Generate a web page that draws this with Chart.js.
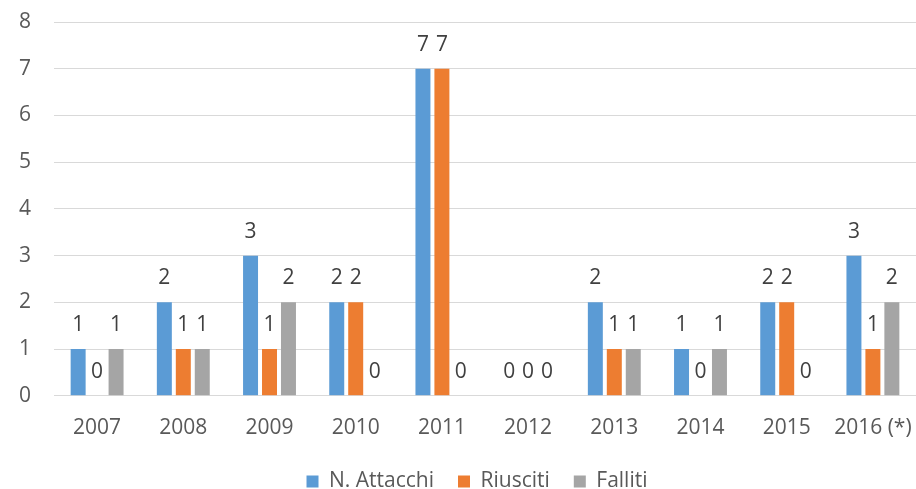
<!DOCTYPE html>
<html>
<head>
<meta charset="utf-8">
<script src="https://cdn.jsdelivr.net/npm/chart.js@4/dist/chart.umd.min.js"></script>
<style>
  html, body { margin: 0; padding: 0; background: #fff; }
  #box { width: 916px; height: 489px; }
</style>
</head>
<body>
<div id="box"><canvas id="grafico"></canvas></div>
<script>
const anni = ["2007", "2008", "2009", "2010", "2011", "2012", "2013", "2014", "2015", "2016 (*)"];
const attacchi = [1, 2, 3, 2, 7, 0, 2, 1, 2, 3];
const riusciti = [0, 1, 1, 2, 7, 0, 1, 0, 2, 1];
const falliti = [1, 1, 2, 0, 0, 0, 1, 1, 0, 2];

const FONT = "'Open Sans', sans-serif";
const SIZE = 21;

// etichette dei valori sopra le barre (anche gli zeri)
const etichette = {
  id: "etichette",
  afterLayout(chart) {
    // la legenda va centrata un po' più a destra
    if (chart.legend) {
      chart.legend.left += 21;
      chart.legend.right += 21;
    }
  },
  afterDatasetsDraw(chart) {
    const ctx = chart.ctx;
    ctx.save();
    ctx.font = SIZE + "px " + FONT;
    ctx.fillStyle = "#404040";
    ctx.textAlign = "center";
    ctx.textBaseline = "alphabetic";
    chart.data.datasets.forEach((ds, i) => {
      const meta = chart.getDatasetMeta(i);
      meta.data.forEach((bar, j) => {
        ctx.fillText(String(ds.data[j]), bar.x, bar.y - 18);
      });
    });
    ctx.restore();
  }
};

const ctx = document.getElementById("grafico").getContext("2d");
const grafico = new Chart(ctx, {
  type: "bar",
  data: {
    labels: anni,
    datasets: [
      { label: "N. Attacchi", data: attacchi, backgroundColor: "#5B9BD5" },
      { label: "Riusciti", data: riusciti, backgroundColor: "#ED7D31" },
      { label: "Falliti", data: falliti, backgroundColor: "#A5A5A5" }
    ]
  },
  options: {
    responsive: true,
    maintainAspectRatio: false,
    animation: false,
    categoryPercentage: 0.66,
    barPercentage: 0.79,
    layout: { padding: { left: -4, right: 0, top: 22, bottom: -13 } },
    plugins: {
      legend: {
        position: "bottom",
        labels: {
          font: { family: FONT, size: SIZE },
          color: "#595959",
          boxWidth: 12,
          boxHeight: 12,
          padding: 24
        }
      },
      tooltip: { enabled: false }
    },
    scales: {
      x: {
        grid: { display: false, drawTicks: false },
        border: { display: false },
        ticks: { font: { family: FONT, size: SIZE }, color: "#595959", padding: 20, maxRotation: 0 },
        afterFit(scale) {
          scale.paddingLeft = 0;
          scale.paddingRight = 0;
          scale.height -= 14;
        }
      },
      y: {
        min: 0,
        max: 8,
        grid: { color: "#d9d9d9", lineWidth: 1, drawTicks: false },
        border: { display: false },
        ticks: { stepSize: 1, font: { family: FONT, size: SIZE }, color: "#595959", padding: 23 },
        afterFit(scale) {
          scale.paddingTop = 0;
          scale.paddingBottom = 0;
        }
      }
    }
  },
  plugins: [etichette]
});
</script>
</body>
</html>
